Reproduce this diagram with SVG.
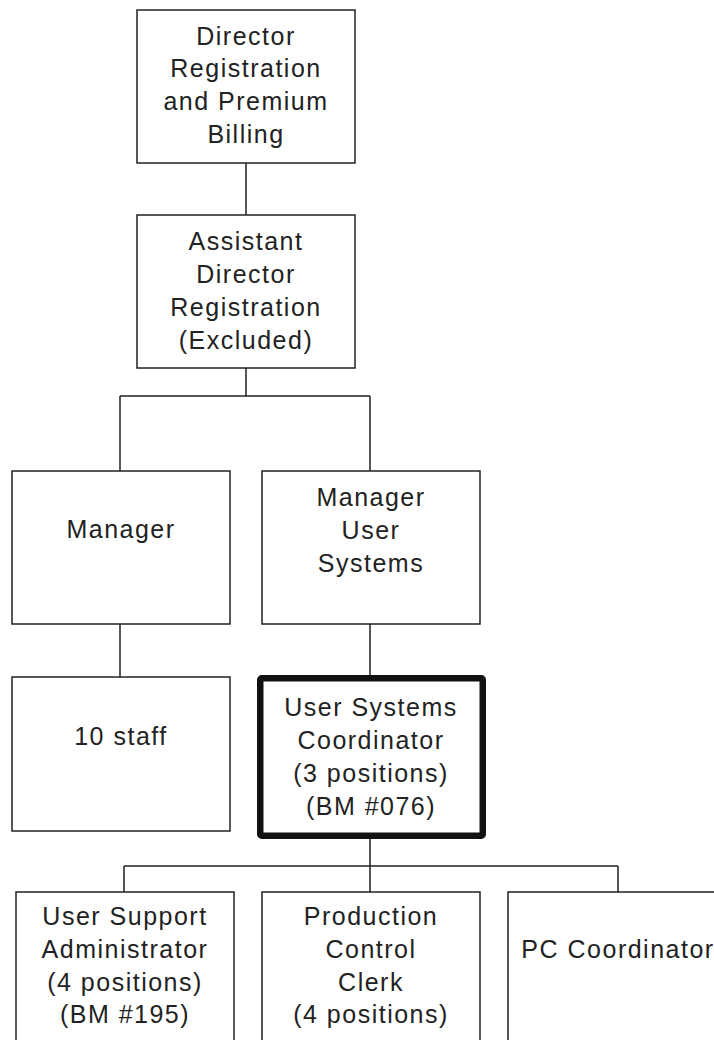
<svg xmlns="http://www.w3.org/2000/svg" width="714" height="1040" viewBox="0 0 714 1040">
<style>
.box{fill:#fff;stroke:#222;stroke-width:1.5}
.thick{fill:#fff;stroke:#111;stroke-width:6.5}
.t{font-family:"Liberation Sans",Arial,sans-serif;font-size:25px;letter-spacing:1.5px;fill:#222;text-anchor:middle}
.c{stroke:#222;stroke-width:1.5;fill:none}
</style>
<rect width="714" height="1040" fill="#fff"/>
<g id="connectors">
<path class="c" d="M246,163V215M246,368V396M120,396H370M120,396V471M370,396V471M120,624V677M370,624V675M370,839V892M124,866H618M124,866V892M618,866V892"/>
</g>
<g id="director">
<rect class="box" x="137" y="10" width="218" height="153"/>
<text class="t" x="246" y="45">Director</text>
<text class="t" x="246" y="77">Registration</text>
<text class="t" x="246" y="110">and Premium</text>
<text class="t" x="246" y="143">Billing</text>
</g>
<g id="assistant">
<rect class="box" x="137" y="215" width="218" height="153"/>
<text class="t" x="246" y="250">Assistant</text>
<text class="t" x="246" y="283">Director</text>
<text class="t" x="246" y="316">Registration</text>
<text class="t" x="246" y="349">(Excluded)</text>
</g>
<g id="manager">
<rect class="box" x="12" y="471" width="218" height="153"/>
<text class="t" x="121" y="538">Manager</text>
</g>
<g id="manager-user-systems">
<rect class="box" x="262" y="471" width="218" height="153"/>
<text class="t" x="371" y="506">Manager</text>
<text class="t" x="371" y="539">User</text>
<text class="t" x="371" y="572">Systems</text>
</g>
<g id="staff">
<rect class="box" x="12" y="677" width="218" height="154"/>
<text class="t" x="121" y="745">10 staff</text>
</g>
<g id="coordinator">
<rect class="thick" x="260.25" y="678.25" width="222.5" height="157.5" rx="1.5"/>
<text class="t" x="371" y="716">User Systems</text>
<text class="t" x="371" y="749">Coordinator</text>
<text class="t" x="371" y="782">(3 positions)</text>
<text class="t" x="371" y="815">(BM #076)</text>
</g>
<g id="user-support">
<rect class="box" x="16" y="892" width="218" height="170"/>
<text class="t" x="125" y="925">User Support</text>
<text class="t" x="125" y="958">Administrator</text>
<text class="t" x="125" y="991">(4 positions)</text>
<text class="t" x="125" y="1023">(BM #195)</text>
</g>
<g id="production">
<rect class="box" x="262" y="892" width="218" height="170"/>
<text class="t" x="371" y="925">Production</text>
<text class="t" x="371" y="958">Control</text>
<text class="t" x="371" y="991">Clerk</text>
<text class="t" x="371" y="1023">(4 positions)</text>
</g>
<g id="pc-coordinator">
<rect class="box" x="508" y="892" width="220" height="170"/>
<text class="t" x="618" y="958">PC Coordinator</text>
</g>
</svg>
